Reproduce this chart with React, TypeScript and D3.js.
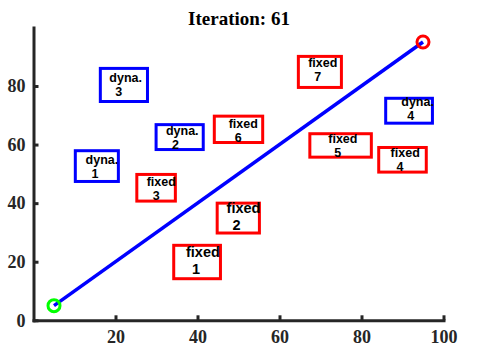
import React, { useEffect, useRef } from 'react';
import * as d3 from 'd3';

// boxes (data units)
const boxNames = ['dyna.', 'dyna.', 'dyna.', 'dyna.', 'fixed', 'fixed', 'fixed', 'fixed', 'fixed', 'fixed', 'fixed'];
const boxIds = ['1', '2', '3', '4', '1', '2', '3', '4', '5', '6', '7'];
const boxX0 = [10.2, 29.9, 16.3, 85.9, 34.2, 44.8, 25.2, 84.2, 67.4, 44.1, 64.6];
const boxX1 = [20.7, 41.4, 27.8, 97.3, 45.6, 55.1, 34.6, 95.8, 82.4, 55.9, 75.1];
const boxY0 = [47.4, 58.3, 74.7, 67.3, 14.2, 29.8, 40.7, 50.6, 55.7, 60.7, 79.5];
const boxY1 = [57.9, 66.8, 86.0, 75.8, 25.6, 40.0, 49.8, 59.0, 63.7, 69.7, 90.1];
// where each label sits (data units)
const labelX = [12.7, 32.3, 18.5, 89.7, 37.2, 47.1, 27.6, 87.1, 71.9, 47.6, 67.0];
const labelY = [53.5, 63.4, 81.3, 73.0, 21.6, 36.6, 45.8, 55.7, 60.5, 65.6, 86.5];
const bigLabels = ['fixed 1', 'fixed 2'];

// path start and goal
const startPoint = [5, 5];
const goalPoint = [95, 95];

const xTicks = [20, 40, 60, 80, 100];
const yTicks = [0, 20, 40, 60, 80];
const iteration = 61;

const W = 480;
const H = 352;

const App = () => {
  const svgRef = useRef<SVGSVGElement>(null);

  useEffect(() => {
    const svg = d3.select(svgRef.current);
    svg.selectAll('*').remove();

    const x = d3.scaleLinear().domain([0, 100]).range([33.5, 443.5]);
    const y = d3.scaleLinear().domain([0, 100]).range([320.3, 27.4]);
    const axisColor = '#262626';

    // title
    svg.append('text')
      .attr('x', 239)
      .attr('y', 24.5)
      .attr('text-anchor', 'middle')
      .attr('font-family', '"Liberation Serif", "Times New Roman", serif')
      .attr('font-weight', 'bold')
      .attr('font-size', 19)
      .attr('fill', '#000')
      .text(`Iteration: ${iteration}`);

    // boxes
    const boxes = boxNames.map((n, i) => ({
      name: n, id: boxIds[i],
      x0: boxX0[i], x1: boxX1[i], y0: boxY0[i], y1: boxY1[i],
      lx: labelX[i], ly: labelY[i],
    }));

    svg.selectAll('.box')
      .data(boxes)
      .enter().append('rect')
      .attr('class', 'box')
      .attr('x', d => x(d.x0))
      .attr('y', d => y(d.y1))
      .attr('width', d => x(d.x1) - x(d.x0))
      .attr('height', d => y(d.y0) - y(d.y1))
      .attr('fill', 'none')
      .attr('stroke', d => (d.name === 'fixed' ? '#ff0000' : '#0000ff'))
      .attr('stroke-width', 3);

    const labels = svg.selectAll('.box-label')
      .data(boxes)
      .enter().append('text')
      .attr('class', 'box-label')
      .attr('font-family', '"Liberation Sans", Arial, sans-serif')
      .attr('font-weight', 'bold')
      .attr('font-size', d => (bigLabels.includes(`${d.name} ${d.id}`) ? 14.5 : 12.5))
      .attr('fill', '#000');
    labels.append('tspan')
      .attr('x', d => x(d.lx))
      .attr('y', d => y(d.ly))
      .text(d => d.name);
    labels.append('tspan')
      .attr('x', d => x(d.lx) + 6)
      .attr('dy', d => (bigLabels.includes(`${d.name} ${d.id}`) ? 17 : 14))
      .text(d => d.id);

    // path line
    svg.append('line')
      .attr('x1', x(startPoint[0]))
      .attr('y1', y(startPoint[1]))
      .attr('x2', x(goalPoint[0]))
      .attr('y2', y(goalPoint[1]))
      .attr('stroke', '#0000ff')
      .attr('stroke-width', 3.5);

    svg.append('circle')
      .attr('cx', x(startPoint[0]))
      .attr('cy', y(startPoint[1]))
      .attr('r', 6)
      .attr('fill', 'none')
      .attr('stroke', '#00ff00')
      .attr('stroke-width', 3);

    svg.append('circle')
      .attr('cx', x(goalPoint[0]))
      .attr('cy', y(goalPoint[1]))
      .attr('r', 6)
      .attr('fill', 'none')
      .attr('stroke', '#ff0000')
      .attr('stroke-width', 3);

    // axes
    const xAxis = svg.append('g')
      .attr('transform', `translate(0,${y(0)})`)
      .call(d3.axisBottom(x).tickValues(xTicks).tickSizeInner(-5).tickSizeOuter(0).tickPadding(10).tickFormat(d3.format('d')));
    const yAxis = svg.append('g')
      .attr('transform', `translate(${x(0)},0)`)
      .call(d3.axisLeft(y).tickValues(yTicks).tickSizeInner(-5).tickSizeOuter(0).tickPadding(8).tickFormat(d3.format('d')));

    [xAxis, yAxis].forEach(g => {
      g.select('.domain')
        .attr('stroke', axisColor)
        .attr('stroke-width', 3)
        .attr('stroke-linecap', 'square');
      g.selectAll('.tick line')
        .attr('stroke', axisColor)
        .attr('stroke-width', 3);
      g.selectAll('.tick text')
        .attr('fill', axisColor)
        .attr('font-family', '"Liberation Serif", "Times New Roman", serif')
        .attr('font-weight', 'bold')
        .attr('font-size', 18);
    });
  }, []);

  return (
    <svg
      ref={svgRef}
      width={W}
      height={H}
      style={{ position: 'absolute', left: 0, top: 0, background: '#fff' }}
    />
  );
};

export default App;
